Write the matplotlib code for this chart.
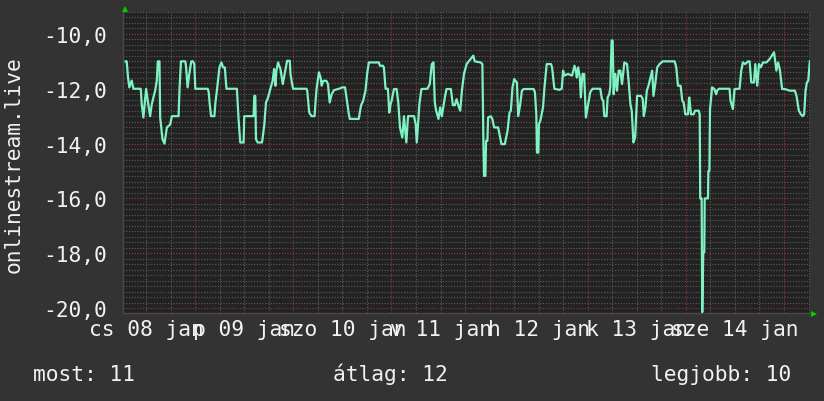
import matplotlib.pyplot as plt
import numpy as np

# hours since 2015-01-08 00:00 and the (negative) rank
hours = [7.0, 7.25, 7.58, 7.9, 8.48, 8.89, 10.69, 10.93, 11.34, 12.0, 12.41, 12.98, 13.39, 14.21,
         14.62, 14.86, 15.27, 15.44, 16.01, 16.5, 17.08, 17.9, 18.3, 19.94, 20.19, 20.52, 21.58,
         21.74, 22.15, 22.56, 23.05, 23.46, 23.79, 24.04, 27.07, 27.31, 27.56, 27.89, 28.7, 28.95,
         29.36, 29.93, 30.42, 30.83, 31.24, 31.65,
         34.2, 34.61, 35.02, 35.84, 36.0, 38.29, 38.46, 38.7, 38.87, 39.28, 40.34, 40.51, 40.91,
         41.32, 41.82, 42.39, 42.96, 43.29, 43.62, 43.86, 44.27, 44.85, 45.42, 46.48, 47.14, 47.3,
         47.71, 47.96, 51.23, 51.4, 51.89, 52.46, 53.2, 53.45, 53.69, 54.26, 54.67, 54.92, 55.33,
         56.07, 56.48, 56.89, 57.38, 57.95, 59.18, 60.0, 60.65, 61.23,
         61.55, 61.8, 64.01, 64.25, 64.58, 65.07, 65.64, 66.05, 66.46, 68.92, 69.17, 69.9, 70.15,
         70.56, 71.13, 71.46, 71.79, 72.03, 72.61, 73.26, 73.67, 74.08, 74.65, 75.06, 75.64, 76.05,
         77.52, 77.93, 78.18, 78.5, 78.83, 79.32, 80.8, 81.37, 81.86, 82.27, 82.6, 82.93, 83.5,
         83.91, 84.32, 84.73, 85.05, 85.46, 86.53, 87.02, 87.51, 87.92, 88.5, 88.82, 89.23,
         89.73, 90.38, 92.02, 92.35, 93.82, 94.23, 94.48, 94.64, 94.97, 95.13, 95.46, 95.63, 96.28,
         96.69, 97.1, 98.08, 98.49, 98.9, 99.72, 100.38, 100.87, 101.2, 101.6, 102.01, 102.67,
         103.0, 103.49, 103.9, 104.31, 106.76, 107.09, 107.42, 107.58, 107.91, 108.07, 108.4,
         108.73, 109.06, 109.38, 109.96, 111.02, 111.27, 111.84, 113.07, 113.64, 113.97, 114.3,
         115.12, 116.18, 116.76,
         117.08, 117.33, 117.65, 118.06, 118.31, 118.72, 119.13, 119.54, 120.11, 120.6, 121.17,
         123.06, 123.47, 123.8, 124.04, 124.61, 124.86, 125.27, 125.51, 125.84, 126.09, 126.33,
         126.74, 127.15, 127.56, 127.97, 128.38, 128.95, 129.61, 130.02, 130.43, 130.76, 131.17,
         131.58, 131.82, 132.07, 133.05, 133.46, 133.7, 134.11, 134.44, 134.85, 135.34, 135.75,
         136.08, 136.49, 136.98, 137.55, 138.37, 141.24, 141.65, 142.06, 142.71, 143.12, 143.45,
         143.86, 144.52,
         144.75, 144.84, 145.25, 145.9, 146.23, 147.13, 147.38, 147.5, 147.85, 148.0, 148.25,
         148.5, 148.6, 149.4, 149.5, 149.75, 149.9, 150.41, 150.98, 151.39, 151.64, 152.05, 154.67,
         154.91, 155.49, 155.9, 157.12, 157.53, 157.94, 158.52, 159.17, 159.58, 159.99, 160.65,
         160.97, 161.46, 161.87, 162.28, 162.86, 163.68, 164.09, 164.5, 165.56, 166.13, 166.54,
         166.95, 167.53, 168.18, 169.41, 170.64, 171.05, 171.62, 172.11, 172.52, 172.93, 173.26,
         173.59, 173.91, 174.32]
rank = [-11.0, -11.0, -11.59, -11.95, -11.7, -12.0, -12.0, -12.56, -13.05, -12.0, -12.44, -13.0, -12.56, -12.07,
        -11.7, -11.0, -11.0, -13.05, -13.84, -14.0, -13.41, -13.3, -13.0, -13.0, -11.95, -11.0, -11.0,
        -11.16, -11.95, -11.46, -11.0, -11.0, -11.1, -12.0, -12.0, -12.13, -12.56, -13.0, -13.0, -12.5,
        -12.01, -11.22, -11.04, -11.22, -11.22, -12.0,
        -12.0, -13.1, -13.96, -13.96, -13.0, -13.0, -12.26, -12.26, -13.84, -13.96, -13.96, -13.78, -13.3,
        -12.5, -12.32, -12.0, -11.7, -11.28, -11.89, -11.34, -11.04, -11.28, -11.83, -10.98, -10.98, -11.46,
        -11.83, -12.0, -12.0, -12.07, -12.87, -13.0, -13.0, -12.44, -12.0, -11.4, -11.59, -11.89, -11.71,
        -11.71, -11.83, -12.5, -12.2, -12.05, -12.0, -11.95, -11.95, -12.56,
        -12.9, -13.1, -13.1, -12.87, -12.6, -12.44, -12.07, -11.46, -11.04, -11.04, -11.16, -11.16, -11.22,
        -12.0, -12.0, -12.87, -12.56, -12.44, -12.01, -12.01, -12.5, -13.41, -13.78, -13.0, -13.96, -13.0,
        -13.0, -13.3, -13.96, -13.3, -12.56, -12.01, -12.0, -11.83, -11.1, -11.04, -12.5, -12.8, -13.1,
        -12.68, -13.0, -12.62, -12.32, -12.01, -12.01, -12.6, -12.6, -12.38, -12.68, -12.8, -12.07,
        -11.46, -11.1, -10.79, -11.0, -11.04, -11.1, -13.9, -15.18, -15.18, -13.9, -13.9, -13.05, -13.0,
        -13.11, -13.41, -13.41, -13.72, -14.02, -14.02, -13.54, -12.87, -12.8, -11.95, -11.65, -11.77,
        -13.0, -12.56, -12.07, -12.01, -12.01, -12.13, -12.93, -14.33, -14.33, -13.29, -13.17,
        -12.93, -12.68, -12.01, -11.1, -11.1, -11.22, -12.0, -12.04, -12.0, -11.34, -11.52,
        -11.46, -11.52, -11.16,
        -11.34, -11.59, -11.22, -11.59, -12.32, -11.46, -11.46, -13.05, -12.56, -12.13, -12.0,
        -12.0, -12.38, -12.44, -13.0, -13.0, -12.32, -12.2, -11.95, -10.24, -10.24, -12.2,
        -11.46, -12.07, -11.34, -11.34, -11.83, -11.04, -11.1, -11.77, -12.56, -12.8, -13.96,
        -13.78, -13.05, -12.26, -12.26, -12.38, -13.0, -12.68, -12.07, -11.89, -11.59, -11.34,
        -12.26, -11.83, -11.22, -11.1, -11.0, -11.0, -11.22, -11.89, -11.89, -12.44, -12.5,
        -12.93, -12.93,
        -12.38, -12.32, -12.93, -12.93, -12.8, -12.8, -12.93, -16.0, -16.0, -20.15, -17.96,
        -17.96, -16.0, -16.0, -15.0, -15.0, -12.74, -11.95, -12.01, -12.2, -12.07, -12.0, -12.0,
        -12.44, -12.74, -12.01, -12.0, -11.34, -11.04, -11.1, -11.0, -11.0, -11.77, -11.77,
        -11.1, -11.89, -11.1, -11.22, -11.04, -11.04, -10.98, -10.91, -10.67, -11.34, -11.04,
        -11.28, -12.01, -12.01, -12.07, -12.07, -12.26, -12.8, -12.93, -13.0, -12.93, -12.07,
        -11.77, -11.71, -11.0]

day_labels = ['cs 08 jan', 'p 09 jan', 'szo 10 jan', 'v 11 jan', 'h 12 jan', 'k 13 jan', 'sze 14 jan']
y_ticks = [-10, -12, -14, -16, -18, -20]
y_tick_labels = ['-10,0', '-12,0', '-14,0', '-16,0', '-18,0', '-20,0']
stats = ['most: 11', 'átlag: 12', 'legjobb: 10']

font = 'DejaVu Sans Mono'
fs = 15.3
txt = '#f2f2f2'

fig = plt.figure(figsize=(8.24, 4.02), dpi=100, facecolor='#333333')
ax = fig.add_axes([123 / 824, 88 / 402, 687 / 824, 301 / 402], facecolor='#222222')

x0, x1 = 6.35, 174.35
ax.set_xlim(x0, x1)
ax.set_ylim(-20.18, -9.2)

# grid: gray dotted minor, red dotted major
for y in np.arange(-20.2, -9.1, 0.2):
    major = abs(y / 2 - round(y / 2)) < 1e-6
    ax.axhline(y, color='#8f3b3b' if major else '#5c5c5c', lw=0.8, ls=(0, (1, 1.5)), zorder=1)
for x in np.arange(0, 180, 6):
    ax.axvline(x, color='#8f3b3b' if x % 24 == 0 else '#5c5c5c', lw=0.8, ls=(0, (1, 1.5)), zorder=1)

ax.plot(hours, rank, color='#7ff2c2', lw=1.6, zorder=3)

ax.set_xticks(np.arange(12, 168, 24))
ax.set_xticklabels(day_labels)
ax.set_yticks(y_ticks)
ax.set_yticklabels(y_tick_labels)
ax.tick_params(axis='x', length=0, pad=4, labelsize=fs, labelcolor=txt)
ax.tick_params(axis='y', length=0, pad=11.5, labelsize=fs, labelcolor=txt)
for lab in ax.get_xticklabels() + ax.get_yticklabels():
    lab.set_family(font)
for side in ['top', 'right']:
    ax.spines[side].set_visible(False)
for side in ['left', 'bottom']:
    ax.spines[side].set_color('#4a4a4a')
    ax.spines[side].set_linewidth(1)

# little green arrows at the ends of the axes
ax.plot([0.003], [1.01], marker='^', color='#00d000', ms=5, mew=0,
        transform=ax.transAxes, clip_on=False)
ax.plot([1.006], [-0.003], marker='>', color='#00d000', ms=5, mew=0,
        transform=ax.transAxes, clip_on=False)

fig.text(0.017, 1 - 165 / 402, 'onlinestream.live', rotation=90, ha='center', va='center',
         family=font, fontsize=fs, color=txt)

fig.text(33 / 824, 21 / 402, stats[0], ha='left', va='baseline', family=font, fontsize=fs, color=txt)
fig.text(333 / 824, 21 / 402, stats[1], ha='left', va='baseline', family=font, fontsize=fs, color=txt)
fig.text(791 / 824, 21 / 402, stats[2], ha='right', va='baseline', family=font, fontsize=fs, color=txt)

fig.savefig('out.png', dpi=100, facecolor=fig.get_facecolor())
